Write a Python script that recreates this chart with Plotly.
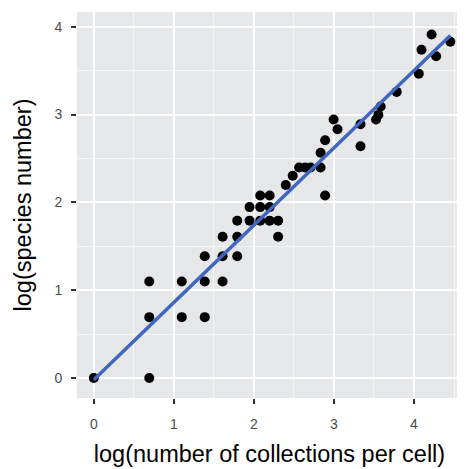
import numpy as np
import plotly.graph_objects as go

# log(number of collections per cell)
log_collections = [
    0.000, 0.693, 0.693, 0.693,
    1.099, 1.099,
    1.386, 1.386, 1.386,
    1.609, 1.609, 1.609,
    1.792, 1.792, 1.792,
    1.946, 1.946,
    2.079, 2.079, 2.079,
    2.197, 2.197, 2.197,
    2.303, 2.303,
    2.398, 2.485,
    2.565, 2.639, 2.708, 2.833, 2.833,
    2.890, 2.890,
    2.996, 3.045,
    3.332, 3.332,
    3.526, 3.555, 3.584,
    3.784, 4.060, 4.094, 4.220, 4.277, 4.454,
]
# log(species number)
log_species = [
    0.000, 0.000, 0.693, 1.099,
    1.099, 0.693,
    1.386, 1.099, 0.693,
    1.609, 1.386, 1.099,
    1.792, 1.609, 1.386,
    1.946, 1.792,
    2.079, 1.946, 1.792,
    2.079, 1.946, 1.792,
    1.792, 1.609,
    2.197, 2.303,
    2.398, 2.398, 2.398, 2.398, 2.565,
    2.708, 2.079,
    2.944, 2.833,
    2.890, 2.639,
    2.944, 2.996, 3.091,
    3.258, 3.466, 3.738, 3.912, 3.664, 3.829,
]

x_ticks = [0, 1, 2, 3, 4]
y_ticks = [0, 1, 2, 3, 4]

x = np.array(log_collections)
y = np.array(log_species)
slope, intercept = np.polyfit(x, y, 1)
xl = np.array([x.min(), x.max()])
yl = intercept + slope * xl

fig = go.Figure()
fig.add_trace(go.Scatter(x=x, y=y, mode="markers",
                         marker=dict(color="black", size=10, line=dict(width=0)),
                         showlegend=False, hoverinfo="skip"))
fig.add_trace(go.Scatter(x=xl, y=yl, mode="lines",
                         line=dict(color="#4066BE", width=3.5),
                         showlegend=False, hoverinfo="skip"))

FONT = "Liberation Sans, Arial, sans-serif"
axis_common = dict(
    showgrid=True, gridcolor="white", gridwidth=1.8,
    zeroline=False, showline=False, automargin=False,
    ticks="outside", ticklen=5, tickwidth=1.5, tickcolor="#333333",
    tickfont=dict(family=FONT, size=14, color="#4D4D4D"),
    minor=dict(showgrid=True, gridcolor="#F5F5F6", gridwidth=0.9, dtick=0.5, ticks=""),
)

# page body has an 8px default margin, so the figure is shrunk to fit the window
fig.update_layout(
    width=457, height=461,
    margin=dict(l=69, r=3, t=4, b=71),
    paper_bgcolor="white", plot_bgcolor="#E6E7E9",
    font=dict(family=FONT, color="black"),
    xaxis=dict(range=[-0.21, 4.6], tickvals=x_ticks, ticktext=[str(v) for v in x_ticks],
               ticklabelstandoff=8,
               title=dict(text="log(number of collections per cell)",
                          font=dict(size=23.5, color="black"), standoff=14),
               **axis_common),
    yaxis=dict(range=[-0.228, 4.168], tickvals=y_ticks, ticktext=[str(v) for v in y_ticks],
               ticklabelstandoff=6,
               title=dict(text="log(species number)",
                          font=dict(size=23.5, color="black"), standoff=16),
               **axis_common),
)

fig.write_html("out.html")
